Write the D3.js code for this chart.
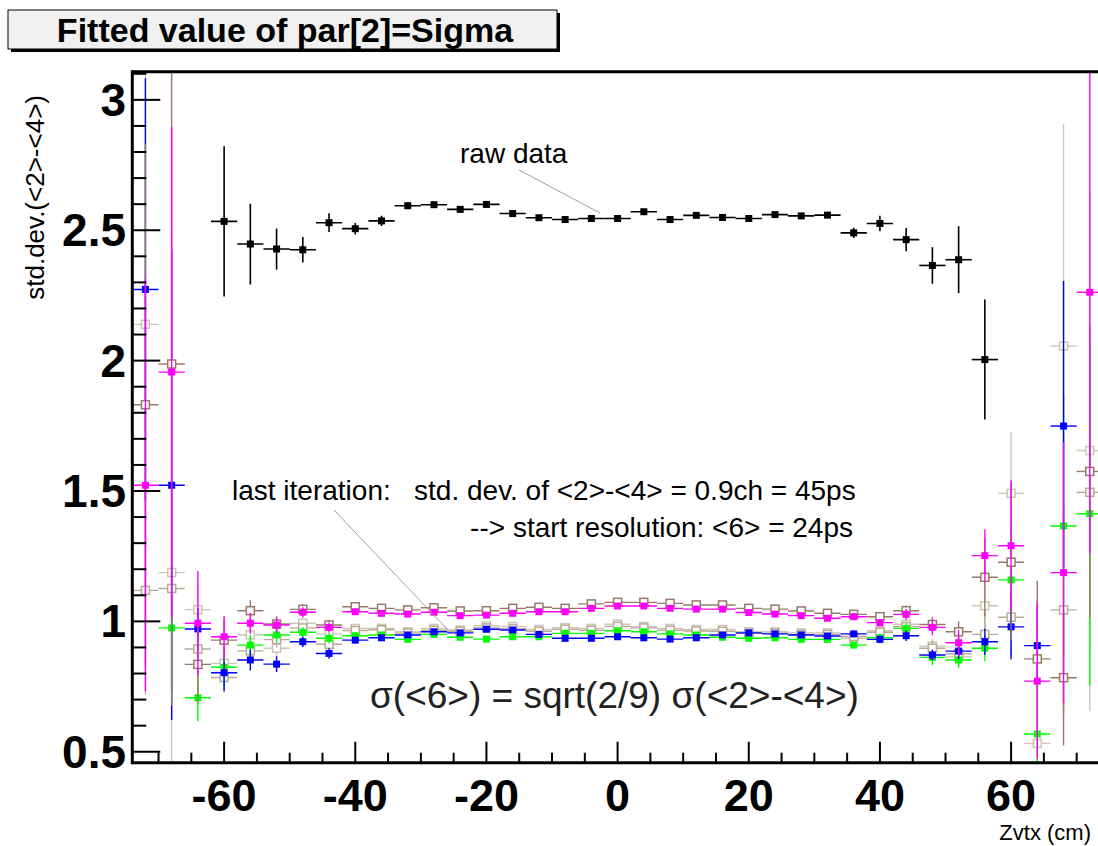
<!DOCTYPE html>
<html>
<head>
<meta charset="utf-8">
<script src="https://cdn.jsdelivr.net/npm/d3@7"></script>
<style>
  body { margin: 0; background: #fff; }
  text { font-family: "Liberation Sans", Arial, sans-serif; }
</style>
</head>
<body>
<div id="chart"></div>
<script>
// bin centres (Zvtx, cm), bin width 4
var bins = [-72, -68, -64, -60, -56, -52, -48, -44, -40, -36, -32, -28, -24, -20, -16, -12, -8, -4,
            0, 4, 8, 12, 16, 20, 24, 28, 32, 36, 40, 44, 48, 52, 56, 60, 64, 68, 72];

var rawVal = [null, null, null, 2.534, 2.447, 2.428, 2.425, 2.529, 2.506, 2.536, 2.594, 2.598, 2.580, 2.599, 2.564, 2.548, 2.541, 2.545,
              2.545, 2.571, 2.541, 2.557, 2.549, 2.545, 2.560, 2.555, 2.558, 2.490, 2.526, 2.464, 2.365, 2.387, 2.004, null, null, null, null];
var rawErr = [0, 0, 0, 0.288, 0.155, 0.079, 0.049, 0.036, 0.022, 0.020, 0.012, 0.010, 0.010, 0.010, 0.010, 0.008, 0.008, 0.008,
              0.008, 0.008, 0.008, 0.008, 0.008, 0.008, 0.008, 0.010, 0.012, 0.020, 0.030, 0.045, 0.070, 0.128, 0.230, 0, 0, 0, 0];

var blueVal = [2.273, 1.522, 0.971, 0.803, 0.852, 0.836, 0.922, 0.877, 0.928, 0.937, 0.948, 0.960, 0.956, 0.970, 0.967, 0.950, 0.935, 0.935,
               0.941, 0.937, 0.932, 0.937, 0.948, 0.956, 0.952, 0.948, 0.944, 0.952, 0.931, 0.945, 0.871, 0.886, 0.922, 0.979, 0.907, 1.749, null];
var blueErr = [0.81, 0.90, 0.08, 0.07, 0.04, 0.03, 0.02, 0.02, 0.012, 0.01, 0.01, 0.01, 0.01, 0.01, 0.01, 0.01, 0.01, 0.01,
               0.01, 0.01, 0.01, 0.01, 0.01, 0.01, 0.01, 0.01, 0.01, 0.012, 0.015, 0.02, 0.02, 0.03, 0.05, 0.125, 0.15, 0.556, 0];

var greenVal = [null, 0.975, 0.707, 0.824, 0.909, 0.948, 0.958, 0.935, 0.945, 0.948, 0.931, 0.950, 0.939, 0.932, 0.941, 0.941, 0.954, 0.954,
                0.964, 0.960, 0.952, 0.948, 0.939, 0.935, 0.937, 0.931, 0.931, 0.909, 0.937, 0.973, 0.862, 0.852, 0.897, 1.159, 0.568, 1.366, 1.413];
var greenErr = [0, 0.24, 0.09, 0.07, 0.04, 0.03, 0.02, 0.02, 0.012, 0.01, 0.01, 0.01, 0.01, 0.01, 0.01, 0.01, 0.01, 0.01,
                0.01, 0.01, 0.01, 0.01, 0.01, 0.01, 0.01, 0.01, 0.01, 0.012, 0.015, 0.02, 0.03, 0.03, 0.05, 0.20, 0.20, 0.50, 0.66];

var magentaVal = [1.522, 1.956, 0.993, 0.941, 0.993, 0.986, 1.035, 0.977, 1.037, 1.031, 1.028, 1.035, 1.022, 1.024, 1.031, 1.037, 1.037, 1.050,
                  1.059, 1.059, 1.050, 1.047, 1.047, 1.034, 1.028, 1.022, 1.012, 1.018, 0.995, 1.027, 0.977, 0.918, 1.252, 1.290, 0.771, 1.187, 2.262];
var magentaErr = [0.79, 0.94, 0.20, 0.08, 0.04, 0.03, 0.02, 0.02, 0.012, 0.01, 0.01, 0.01, 0.01, 0.01, 0.01, 0.01, 0.01, 0.01,
                  0.01, 0.01, 0.01, 0.01, 0.01, 0.01, 0.01, 0.01, 0.01, 0.012, 0.015, 0.02, 0.03, 0.05, 0.10, 0.25, 0.30, 0.50, 1.00];

var brownVal = [1.831, 1.987, 0.835, 0.928, 1.041, 0.990, 1.046, 0.986, 1.056, 1.050, 1.044, 1.052, 1.040, 1.041, 1.050, 1.054, 1.050, 1.067,
                1.073, 1.073, 1.069, 1.063, 1.063, 1.050, 1.047, 1.040, 1.031, 1.027, 1.018, 1.041, 0.988, 0.960, 1.169, 1.227, 0.856, 0.784, 1.575];
var brownErr = [1.00, 1.31, 0.15, 0.08, 0.04, 0.03, 0.02, 0.02, 0.012, 0.01, 0.01, 0.01, 0.01, 0.01, 0.01, 0.01, 0.01, 0.01,
                0.01, 0.01, 0.01, 0.01, 0.01, 0.01, 0.01, 0.01, 0.01, 0.012, 0.015, 0.02, 0.03, 0.04, 0.15, 0.30, 0.30, 0.26, 0.56];

var beigeVal = [2.139, 1.187, 1.045, 0.839, 0.948, 0.897, 0.993, 0.951, 0.973, 0.973, 0.960, 0.973, 0.967, 0.983, 0.980, 0.969, 0.976, 0.973,
                0.989, 0.980, 0.973, 0.969, 0.969, 0.960, 0.960, 0.956, 0.956, 0.935, 0.964, 0.989, 0.905, 0.864, 1.060, 1.491, 0.532, 2.056, 1.655];
var beigeErr = [1.00, 1.30, 0.10, 0.06, 0.04, 0.03, 0.02, 0.02, 0.012, 0.01, 0.01, 0.01, 0.01, 0.01, 0.01, 0.01, 0.01, 0.01,
                0.01, 0.01, 0.01, 0.01, 0.01, 0.01, 0.01, 0.01, 0.01, 0.012, 0.015, 0.02, 0.03, 0.04, 0.15, 0.235, 0.56, 0.85, 1.00];

var tanVal = [1.119, 1.126, 0.894, 0.785, 0.887, 0.930, 0.975, 0.912, 0.965, 0.968, 0.955, 0.966, 0.962, 0.975, 0.972, 0.962, 0.970, 0.966,
              0.981, 0.975, 0.966, 0.963, 0.962, 0.954, 0.955, 0.950, 0.950, 0.942, 0.958, 0.980, 0.897, 0.876, 0.950, 1.016, null, 1.044, 1.495];
var tanErr = [0.40, 0.40, 0.08, 0.06, 0.04, 0.03, 0.02, 0.02, 0.012, 0.01, 0.01, 0.01, 0.01, 0.01, 0.01, 0.01, 0.01, 0.01,
              0.01, 0.01, 0.01, 0.01, 0.01, 0.01, 0.01, 0.01, 0.01, 0.012, 0.015, 0.02, 0.03, 0.04, 0.08, 0.15, 0, 0.40, 0.60];

var yTicks = [0.5, 1, 1.5, 2, 2.5, 3];
var yTickLabels = ["0.5", "1", "1.5", "2", "2.5", "3"];
var xTicks = [-60, -40, -20, 0, 20, 40, 60];

var series = [
    { name: "beige", vals: beigeVal, errs: beigeErr, color: "#cdc5b5", open: true },
    { name: "tan", vals: tanVal, errs: tanErr, color: "#b8aa96", open: true },
    { name: "green", vals: greenVal, errs: greenErr, color: "#00ff00", open: false },
    { name: "blue", vals: blueVal, errs: blueErr, color: "#0000ff", open: false },
    { name: "brown", vals: brownVal, errs: brownErr, color: "#987868", open: true },
    { name: "magenta", vals: magentaVal, errs: magentaErr, color: "#ff00ff", open: false },
    { name: "raw", vals: rawVal, errs: rawErr, color: "#000000", open: false }
];

var W = 1098, H = 846;
var svg = d3.select("#chart").append("svg").attr("width", W).attr("height", H);

var x = d3.scaleLinear().domain([-74, 74]).range([132.3, 1102.9]);
var y = d3.scaleLinear().domain([0.458, 3.108]).range([762.7, 71.7]);

svg.append("defs").append("clipPath").attr("id", "plotclip")
    .append("rect").attr("x", x(-74)).attr("y", y(3.108)).attr("width", x(74) - x(-74)).attr("height", y(0.458) - y(3.108));

// title box with shadow
svg.append("rect").attr("x", 11).attr("y", 13).attr("width", 549).attr("height", 39).attr("fill", "#000");
svg.append("rect").attr("x", 8).attr("y", 10).attr("width", 549).attr("height", 39)
    .attr("fill", "#f0f0f0").attr("stroke", "#000").attr("stroke-width", 1);
svg.append("text").attr("x", 285).attr("y", 42).attr("text-anchor", "middle")
    .attr("font-size", 34).attr("font-weight", "bold").text("Fitted value of par[2]=Sigma");

var plot = svg.append("g").attr("clip-path", "url(#plotclip)");

series.forEach(function(s) {
    var pts = bins.map(function(b, i) { return { b: b, v: s.vals[i], e: s.errs[i] }; })
        .filter(function(d) { return d.v !== null; });
    var g = plot.append("g").attr("class", "series_" + s.name);
    var lw = s.name === "raw" ? 1.6 : 1.4;
    g.selectAll("line.h").data(pts).enter().append("line")
        .attr("x1", function(d) { return x(d.b - 2); })
        .attr("x2", function(d) { return x(d.b + 2); })
        .attr("y1", function(d) { return y(d.v); })
        .attr("y2", function(d) { return y(d.v); })
        .attr("stroke", s.color).attr("stroke-width", lw);
    g.selectAll("line.v").data(pts.filter(function(d) { return d.e > 0; })).enter().append("line")
        .attr("x1", function(d) { return x(d.b); })
        .attr("x2", function(d) { return x(d.b); })
        .attr("y1", function(d) { return y(d.v - d.e); })
        .attr("y2", function(d) { return y(d.v + d.e); })
        .attr("stroke", s.color).attr("stroke-width", lw);
    if (s.open) {
        g.selectAll("rect").data(pts).enter().append("rect")
            .attr("x", function(d) { return x(d.b) - 4; })
            .attr("y", function(d) { return y(d.v) - 4; })
            .attr("width", 8).attr("height", 8)
            .attr("fill", "#fff").attr("stroke", s.color).attr("stroke-width", 1.5);
    } else {
        g.selectAll("rect").data(pts).enter().append("rect")
            .attr("x", function(d) { return x(d.b) - 3.5; })
            .attr("y", function(d) { return y(d.v) - 3.5; })
            .attr("width", 7).attr("height", 7)
            .attr("fill", s.color);
    }
});

// frame
var frame = svg.append("g").attr("stroke", "#000").attr("fill", "none");
frame.append("line").attr("x1", x(-74)).attr("x2", W).attr("y1", y(3.108)).attr("y2", y(3.108)).attr("stroke-width", 3);
frame.append("line").attr("x1", x(-74)).attr("x2", W).attr("y1", y(0.458)).attr("y2", y(0.458)).attr("stroke-width", 3);
frame.append("line").attr("x1", x(-74)).attr("x2", x(-74)).attr("y1", y(3.108) - 1.5).attr("y2", y(0.458) + 1.5).attr("stroke-width", 3);

// y ticks every 0.1, major every 0.5
var yMinor = d3.range(5, 32).map(function(k) { return k / 10; });
frame.selectAll("line.ytick").data(yMinor).enter().append("line")
    .attr("x1", x(-74))
    .attr("x2", function(d) { return x(-74) + (Math.abs(d * 2 - Math.round(d * 2)) < 1e-6 ? 28 : 14); })
    .attr("y1", function(d) { return y(d); })
    .attr("y2", function(d) { return y(d); })
    .attr("stroke-width", 2);

// x ticks every 5, major every 20
var xMinor = d3.range(-70, 75, 5);
frame.selectAll("line.xtick").data(xMinor).enter().append("line")
    .attr("x1", function(d) { return x(d); })
    .attr("x2", function(d) { return x(d); })
    .attr("y1", y(0.458))
    .attr("y2", function(d) { return y(0.458) - (d % 20 === 0 ? 21 : 10); })
    .attr("stroke-width", 2);

svg.selectAll("text.ylab").data(yTicks).enter().append("text")
    .attr("x", 126).attr("y", function(d) { return y(d) + 16; })
    .attr("text-anchor", "end").attr("font-size", 46).attr("font-weight", "bold")
    .text(function(d, i) { return yTickLabels[i]; });

svg.selectAll("text.xlab").data(xTicks).enter().append("text")
    .attr("x", function(d) { return x(d); }).attr("y", 811)
    .attr("text-anchor", "middle").attr("font-size", 45).attr("font-weight", "bold")
    .text(function(d) { return d; });

// axis titles
svg.append("text").attr("transform", "translate(44,95) rotate(-90)")
    .attr("text-anchor", "end").attr("font-size", 26).text("std.dev.(<2>-<4>)");
svg.append("text").attr("x", 1091).attr("y", 840).attr("text-anchor", "end")
    .attr("font-size", 22).text("Zvtx (cm)");

// annotations
svg.append("line").attr("x1", 519).attr("y1", 170).attr("x2", 600).attr("y2", 213)
    .attr("stroke", "#a0a0a0").attr("stroke-width", 1);
svg.append("text").attr("x", 460).attr("y", 163).attr("font-size", 28).text("raw data");

svg.append("line").attr("x1", 334).attr("y1", 510).attr("x2", 448).attr("y2", 630)
    .attr("stroke", "#a0a0a0").attr("stroke-width", 1);
svg.append("text").attr("x", 232).attr("y", 500).attr("font-size", 28).attr("xml:space", "preserve")
    .text("last iteration:   std. dev. of <2>-<4> = 0.9ch = 45ps");
svg.append("text").attr("x", 853).attr("y", 537).attr("text-anchor", "end").attr("font-size", 28)
    .text("--> start resolution: <6> = 24ps");

svg.append("text").attr("x", 370).attr("y", 708).attr("font-size", 37).attr("fill", "#222")
    .text("σ(<6>) = sqrt(2/9) σ(<2>-<4>)");
</script>
</body>
</html>
